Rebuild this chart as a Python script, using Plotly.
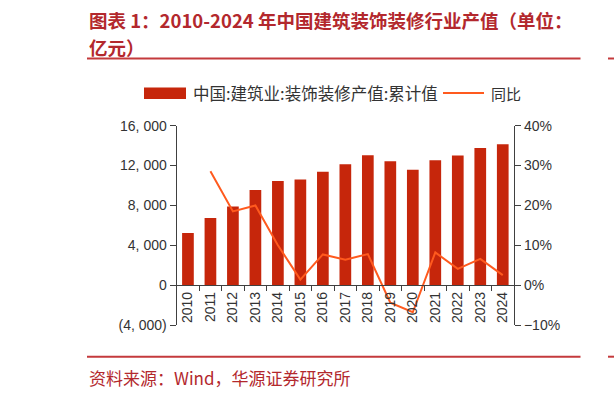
import plotly.graph_objects as go

W, H = 614, 396

years = [str(y) for y in range(2010, 2025)]
output_value = [5240, 6740, 7900, 9540, 10440, 10600, 11370, 12140, 13040,
                12440, 11570, 12540, 13000, 13770, 14140]
yoy_years = [str(y) for y in range(2011, 2025)]
yoy_pct = [28.6, 18.5, 20.0, 10.0, 1.4, 7.7, 6.4, 7.8, -4.4, -6.8, 8.2, 4.1, 6.6, 2.5]

left_tickvals = [-4000, 0, 4000, 8000, 12000, 16000]
left_ticktext = ["(4, 000)", "0", "4, 000", "8, 000", "12, 000", "16, 000"]
right_tickvals = [-10, 0, 10, 20, 30, 40]
right_ticktext = ["\u221210%", "0%", "10%", "20%", "30%", "40%"]

title_line1 = "图表 1：2010-2024 年中国建筑装饰装修行业产值（单位："
title_line2 = "亿元）"
legend_bar = "中国:建筑业:装饰装修产值:累计值"
legend_line = "同比"
source_text = "资料来源：Wind，华源证券研究所"

BAR_COLOR = "#C6260B"
LINE_COLOR = "#FF5A1E"
DARK_RED = "#B3282D"
RULE_RED = "#C43A3C"
AXIS = "#404040"
TXT = "#333333"


def px(x):
    return x / W


def py(y):
    return 1 - y / H


x_dom = [px(176.7), px(514)]
y_top, y_bot = py(125.7), py(325)
zero_pos = y_bot + 0.2 * (y_top - y_bot)

fig = go.Figure()
fig.add_trace(go.Bar(x=years, y=output_value, marker=dict(color=BAR_COLOR, line=dict(width=0)),
                     width=0.52, yaxis="y", showlegend=False))
fig.add_trace(go.Scatter(x=yoy_years, y=yoy_pct, mode="lines",
                         line=dict(color=LINE_COLOR, width=2), yaxis="y2", showlegend=False))

tick_font = dict(family="Liberation Sans, Arial", size=14, color=TXT)

fig.update_layout(
    width=W, height=H,
    margin=dict(l=0, r=0, t=0, b=0),
    paper_bgcolor="white", plot_bgcolor="white",
    xaxis=dict(domain=x_dom, type="category", anchor="free", position=zero_pos,
               showline=True, linecolor=AXIS, linewidth=1.3, ticks="outside",
               tickson="boundaries", ticklen=5, tickcolor=AXIS, tickwidth=1.3,
               tickangle=-90, tickfont=tick_font, showgrid=False, zeroline=False,
               automargin=False),
    yaxis=dict(domain=[y_bot, y_top], range=[-4000, 16000], tickmode="array",
               tickvals=left_tickvals, ticktext=left_ticktext, showline=True,
               linecolor=AXIS, linewidth=1.3, ticks="outside", ticklen=6, tickcolor=AXIS,
               tickwidth=1.3, tickfont=tick_font, showgrid=False, zeroline=False,
               automargin=False),
    yaxis2=dict(range=[-10, 40], tickmode="array", tickvals=right_tickvals,
                ticktext=right_ticktext, overlaying="y", side="right", anchor="x",
                showline=True, linecolor=AXIS, linewidth=1.3, ticks="outside", ticklen=6,
                tickcolor=AXIS, tickwidth=1.3, tickfont=tick_font, showgrid=False,
                zeroline=False, automargin=False),
    bargap=0.48,
)

cjk = "Noto Sans CJK SC"
ann = []
ann.append(dict(text="<b>" + title_line1 + "</b>", x=px(87), y=py(20), xref="paper", yref="paper",
                xanchor="left", yanchor="middle", showarrow=False,
                font=dict(family=cjk, size=18.5, color=DARK_RED)))
ann.append(dict(text="<b>" + title_line2 + "</b>", x=px(87), y=py(46.5), xref="paper", yref="paper",
                xanchor="left", yanchor="middle", showarrow=False,
                font=dict(family=cjk, size=18.5, color=DARK_RED)))
ann.append(dict(text=legend_bar, x=px(191), y=py(93), xref="paper", yref="paper",
                xanchor="left", yanchor="middle", showarrow=False,
                font=dict(family=cjk, size=16.5, color=TXT)))
ann.append(dict(text=legend_line, x=px(489), y=py(93), xref="paper", yref="paper",
                xanchor="left", yanchor="middle", showarrow=False,
                font=dict(family=cjk, size=15, color=TXT)))
ann.append(dict(text=source_text, x=px(87), y=py(377), xref="paper", yref="paper",
                xanchor="left", yanchor="middle", showarrow=False,
                font=dict(family=cjk, size=17, color=DARK_RED)))
fig.update_layout(annotations=ann)

shapes = []
shapes.append(dict(type="rect", xref="paper", yref="paper", x0=px(144), x1=px(186),
                   y0=py(99), y1=py(87.5), fillcolor=BAR_COLOR, line=dict(width=0)))
shapes.append(dict(type="line", xref="paper", yref="paper", x0=px(443), x1=px(484),
                   y0=py(93), y1=py(93), line=dict(color=LINE_COLOR, width=2)))
for yy in (58.5, 356.7):
    shapes.append(dict(type="line", xref="paper", yref="paper", x0=px(87), x1=px(580.5),
                       y0=py(yy), y1=py(yy), line=dict(color=RULE_RED, width=2)))
    shapes.append(dict(type="line", xref="paper", yref="paper", x0=px(608), x1=px(614),
                       y0=py(yy), y1=py(yy), line=dict(color=RULE_RED, width=2)))
fig.update_layout(shapes=shapes)

fig.write_html("out.html", config={"displayModeBar": False},
               post_script="document.body.style.margin='0';")
